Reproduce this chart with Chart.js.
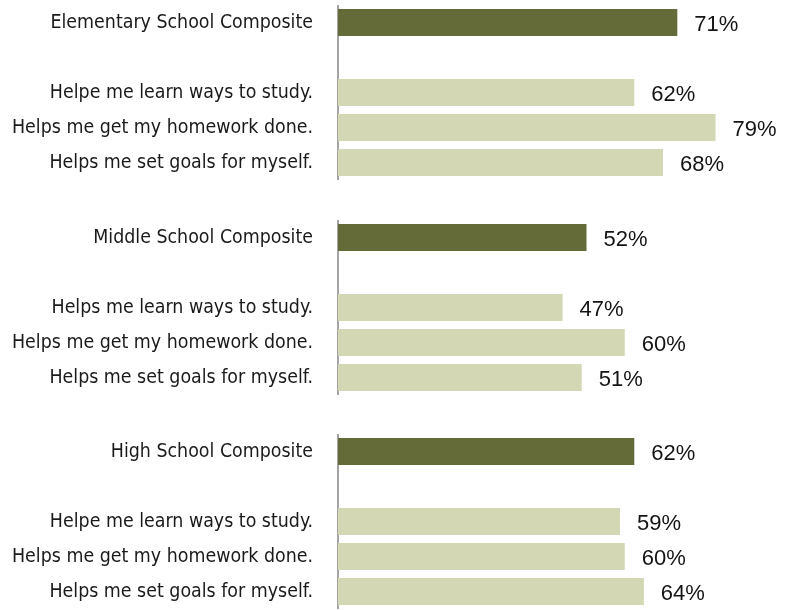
<!DOCTYPE html>
<html>
<head>
<meta charset="utf-8">
<script src="https://cdn.jsdelivr.net/npm/chart.js@4/dist/chart.umd.min.js"></script>
<style>
  html, body { margin: 0; padding: 0; background: #ffffff; }
  body { width: 792px; height: 610px; position: relative; overflow: hidden; }
  canvas.panel { position: absolute; left: 0; }
</style>
</head>
<body>
<canvas id="elem" class="panel" width="792" height="175" style="top:5px"></canvas>
<canvas id="middle" class="panel" width="792" height="175" style="top:220px"></canvas>
<canvas id="high" class="panel" width="792" height="175" style="top:434px"></canvas>
<script>
// Survey items per school level: composite row, spacer row, three statements
const elementaryLabels = ['Elementary School Composite', '', 'Helpe me learn ways to study.', 'Helps me get my homework done.', 'Helps me set goals for myself.'];
const elementaryValues = [71, null, 62, 79, 68];

const middleLabels = ['Middle School Composite', '', 'Helps me learn ways to study.', 'Helps me get my homework done.', 'Helps me set goals for myself.'];
const middleValues = [52, null, 47, 60, 51];

const highLabels = ['High School Composite', '', 'Helpe me learn ways to study.', 'Helps me get my homework done.', 'Helps me set goals for myself.'];
const highValues = [62, null, 59, 60, 64];

const COMPOSITE_COLOR = '#646a38';
const ITEM_COLOR = '#d3d7b4';
const LABEL_FAMILY = '"DejaVu Sans Condensed", "Liberation Sans Narrow", sans-serif';

// Size the category font so the longest statement spans about 301px
function fitLabelSize() {
  const ctx = document.createElement('canvas').getContext('2d');
  ctx.font = '20px ' + LABEL_FAMILY;
  const w = ctx.measureText('Helps me get my homework done.').width;
  return Math.round(20 * 301 / w * 10) / 10;
}
const LABEL_SIZE = fitLabelSize();

// Writes "NN%" to the right of each bar
const valueLabels = {
  id: 'valueLabels',
  afterDatasetsDraw(chart) {
    const ctx = chart.ctx;
    const meta = chart.getDatasetMeta(0);
    const data = chart.data.datasets[0].data;
    ctx.save();
    ctx.font = '22px "Liberation Sans", Arial, sans-serif';
    ctx.fillStyle = '#141414';
    ctx.textAlign = 'left';
    ctx.textBaseline = 'middle';
    meta.data.forEach((bar, i) => {
      if (data[i] == null) return;
      ctx.fillText(data[i] + '%', bar.x + 17, bar.y + 2);
    });
    ctx.restore();
  }
};

function makeChart(id, labels, values) {
  const colors = labels.map((_, i) => i === 0 ? COMPOSITE_COLOR : ITEM_COLOR);
  return new Chart(document.getElementById(id), {
    type: 'bar',
    data: {
      labels: labels,
      datasets: [{
        data: values,
        backgroundColor: colors,
        borderWidth: 0,
        barPercentage: 0.77,
        categoryPercentage: 1.0
      }]
    },
    options: {
      indexAxis: 'y',
      responsive: false,
      animation: false,
      layout: { padding: 0 },
      plugins: {
        legend: { display: false },
        tooltip: { enabled: false }
      },
      scales: {
        x: {
          display: false,
          min: 0,
          max: 95
        },
        y: {
          grid: { display: false, drawTicks: true, tickLength: 25 },
          border: { display: true, color: '#a4a4a4', width: 2 },
          ticks: {
            padding: 0,
            color: '#1a1a1a',
            font: { family: LABEL_FAMILY, size: LABEL_SIZE }
          },
          afterFit(scale) {
            scale.width = 338;
            scale.paddingTop = 0;
            scale.paddingBottom = 0;
          }
        }
      }
    },
    plugins: [valueLabels]
  });
}

makeChart('elem', elementaryLabels, elementaryValues);
makeChart('middle', middleLabels, middleValues);
makeChart('high', highLabels, highValues);
</script>
</body>
</html>
